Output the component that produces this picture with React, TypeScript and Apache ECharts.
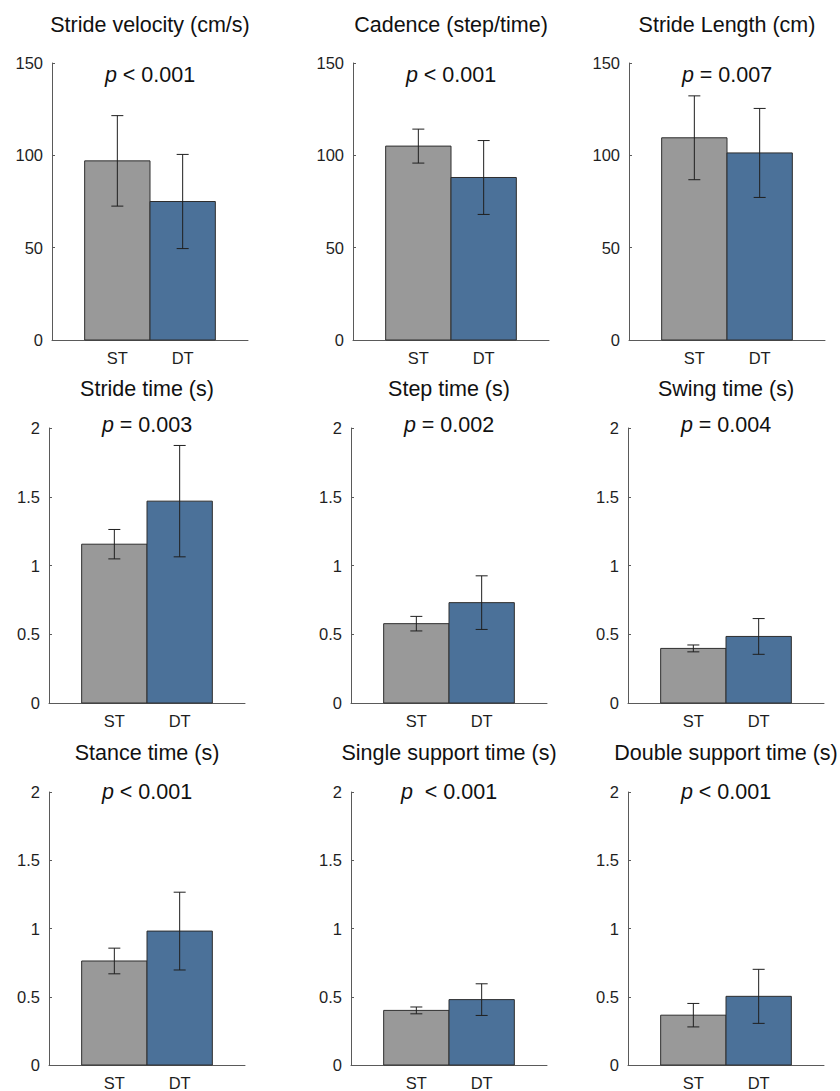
import React, { useEffect, useRef } from 'react';
import * as echarts from 'echarts';

const categories = ['ST', 'DT'];
const titles = [
  'Stride velocity (cm/s)',
  'Cadence (step/time)',
  'Stride Length (cm)',
  'Stride time (s)',
  'Step time (s)',
  'Swing time (s)',
  'Stance time (s)',
  'Single support time (s)',
  'Double support time (s)',
];
const pLabels = ['< 0.001', '< 0.001', '= 0.007', '= 0.003', '= 0.002', '= 0.004', '< 0.001', ' < 0.001', '< 0.001'];
const meanST = [97, 105, 109.5, 1.155, 0.577, 0.397, 0.762, 0.4, 0.365];
const meanDT = [75, 88, 101.3, 1.468, 0.73, 0.484, 0.981, 0.479, 0.503];
const sdST = [24.5, 9.2, 22.7, 0.107, 0.053, 0.025, 0.094, 0.025, 0.086];
const sdDT = [25.5, 20, 24.1, 0.405, 0.195, 0.13, 0.285, 0.116, 0.198];
const yMax = [150, 150, 150, 2, 2, 2, 2, 2, 2];
const yInterval = [50, 50, 50, 0.5, 0.5, 0.5, 0.5, 0.5, 0.5];

const barColors = ['#999999', '#4b7199'];

// layout (pixels)
const colLefts = [
  [52, 353, 629],
  [49, 351, 628],
  [49, 351, 628],
];
const gridWidth = 196;
const rowTops = [63, 428, 792];
const rowHeights = [277, 275, 275];
const titleY = [25, 389, 753];
const pY = [75, 425, 792];

const FONT = '"Liberation Sans", Arial, Helvetica, sans-serif';

export default function App() {
  const ref = useRef<HTMLDivElement>(null);
  useEffect(() => {
    if (!ref.current) return;
    const chart = echarts.init(ref.current, undefined, { renderer: 'svg' });
    const grid: any[] = [];
    const xAxis: any[] = [];
    const yAxis: any[] = [];
    const series: any[] = [];
    const graphic: any[] = [];
    for (let i = 0; i < 9; i++) {
      const r = Math.floor(i / 3);
      const c = i % 3;
      const left = colLefts[r][c];
      grid.push({ left, top: rowTops[r], width: gridWidth, height: rowHeights[r], containLabel: false });
      xAxis.push({
        type: 'value',
        gridIndex: i,
        min: 0,
        max: 3,
        interval: 1,
        splitLine: { show: false },
        axisLine: { show: true, lineStyle: { color: '#5a5a5a', width: 1 } },
        axisTick: { show: true, inside: true, length: 3, customValues: [1, 2], lineStyle: { color: '#5a5a5a' } },
        axisLabel: {
          show: true,
          customValues: [1, 2],
          formatter: (v: number) => (v === 1 ? categories[0] : v === 2 ? categories[1] : ''),
          color: '#1f1f1f',
          fontFamily: FONT,
          fontSize: 16.5,
          margin: 9,
        },
      });
      yAxis.push({
        type: 'value',
        gridIndex: i,
        min: 0,
        max: yMax[i],
        interval: yInterval[i],
        splitLine: { show: false },
        axisLine: { show: true, lineStyle: { color: '#5a5a5a', width: 1 } },
        axisTick: { show: true, inside: true, length: 3, lineStyle: { color: '#5a5a5a' } },
        axisLabel: { color: '#1f1f1f', fontFamily: FONT, fontSize: 16.5, margin: 9 },
      });
      series.push({
        type: 'custom',
        xAxisIndex: i,
        yAxisIndex: i,
        clip: false,
        data: [
          [1, meanST[i]],
          [2, meanDT[i]],
        ],
        encode: { x: 0, y: 1 },
        renderItem: (params: any, api: any) => {
          const x = api.value(0);
          const v = api.value(1);
          const p0 = api.coord([x - 0.5, v]);
          const p1 = api.coord([x + 0.5, 0]);
          return {
            type: 'rect',
            shape: { x: p0[0], y: p0[1], width: p1[0] - p0[0], height: p1[1] - p0[1] },
            style: { fill: barColors[params.dataIndex], stroke: '#2e2e2e', lineWidth: 1 },
          };
        },
      });
      series.push({
        type: 'custom',
        xAxisIndex: i,
        yAxisIndex: i,
        clip: false,
        data: [
          [1, meanST[i] - sdST[i], meanST[i] + sdST[i]],
          [2, meanDT[i] - sdDT[i], meanDT[i] + sdDT[i]],
        ],
        encode: { x: 0, y: [1, 2] },
        renderItem: (params: any, api: any) => {
          const x = api.value(0);
          const lo = api.coord([x, api.value(1)]);
          const hi = api.coord([x, api.value(2)]);
          const cap = 6;
          const st = { stroke: '#1f1f1f', lineWidth: 1 };
          return {
            type: 'group',
            children: [
              { type: 'line', shape: { x1: lo[0], y1: lo[1], x2: hi[0], y2: hi[1] }, style: st },
              { type: 'line', shape: { x1: lo[0] - cap, y1: lo[1], x2: lo[0] + cap, y2: lo[1] }, style: st },
              { type: 'line', shape: { x1: hi[0] - cap, y1: hi[1], x2: hi[0] + cap, y2: hi[1] }, style: st },
            ],
          };
        },
      });
      const cx = left + gridWidth / 2;
      graphic.push({
        type: 'text',
        x: cx,
        y: titleY[r],
        style: {
          text: titles[i],
          fontFamily: FONT,
          fontSize: 21.5,
          fill: '#111111',
          align: 'center',
          verticalAlign: 'middle',
        },
      });
      graphic.push({
        type: 'text',
        x: cx,
        y: pY[r],
        style: {
          text: '{i|p} ' + pLabels[i],
          fontFamily: FONT,
          fontSize: 21.5,
          fill: '#111111',
          align: 'center',
          verticalAlign: 'middle',
          rich: {
            i: { fontStyle: 'italic', fontFamily: FONT, fontSize: 21.5, fill: '#111111' },
          },
        },
      });
    }
    chart.setOption({
      animation: false,
      backgroundColor: '#ffffff',
      grid,
      xAxis,
      yAxis,
      series,
      graphic,
    });
    return () => chart.dispose();
  }, []);
  return (
    <div
      ref={ref}
      style={{ position: 'absolute', left: 0, top: 0, width: 840, height: 1091 }}
    />
  );
}
